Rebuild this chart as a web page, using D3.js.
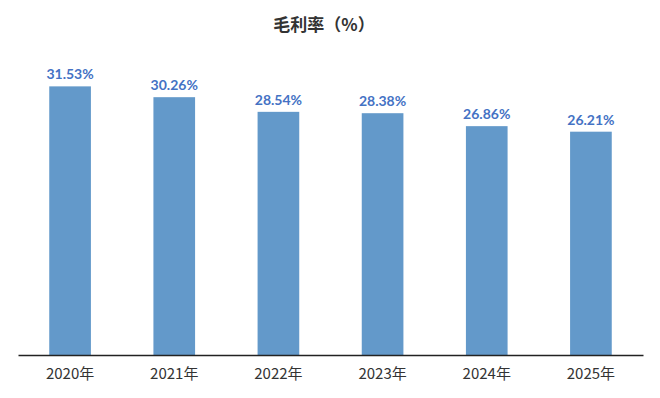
<!DOCTYPE html>
<html>
<head>
<meta charset="utf-8">
<script src="https://cdn.jsdelivr.net/npm/d3@7"></script>
<style>
  body { margin: 0; background: #fff; }
</style>
</head>
<body>
<svg id="chart"></svg>
<script>
const years = ["2020年", "2021年", "2022年", "2023年", "2024年", "2025年"];
const margins = [31.53, 30.26, 28.54, 28.38, 26.86, 26.21];

const width = 660, height = 398;
const left = 18, right = 643, base = 355;

const svg = d3.select("#chart")
    .attr("width", width)
    .attr("height", height);

// Skalen
const x = d3.scaleBand()
    .domain(years)
    .range([left, right])
    .paddingInner(0.6)
    .paddingOuter(0.3);

const y = d3.scaleLinear()
    .domain([0, 35])
    .range([base, base - 8.52 * 35]);

// Titel
svg.append("text")
    .attr("x", 324)
    .attr("y", 31)
    .attr("text-anchor", "middle")
    .attr("font-family", "'Noto Sans CJK SC', sans-serif")
    .attr("font-weight", "bold")
    .attr("font-size", 17)
    .attr("fill", "#333")
    .text("毛利率（%）");

// Balken
svg.selectAll("rect.bar")
    .data(margins)
    .join("rect")
    .attr("class", "bar")
    .attr("x", (d, i) => x(years[i]))
    .attr("y", d => y(d))
    .attr("width", x.bandwidth())
    .attr("height", d => base - y(d))
    .attr("fill", "#6399ca");

// Werte
svg.selectAll("text.val")
    .data(margins)
    .join("text")
    .attr("class", "val")
    .attr("x", (d, i) => x(years[i]) + x.bandwidth() / 2)
    .attr("y", d => y(d) - 7)
    .attr("text-anchor", "middle")
    .attr("font-family", "Lato, 'Open Sans', sans-serif")
    .attr("font-weight", "bold")
    .attr("font-size", 14)
    .attr("fill", "#4472c4")
    .text(d => d.toFixed(2) + "%");

// X Achse
const axis = svg.append("g")
    .attr("transform", `translate(0, ${base})`)
    .call(d3.axisBottom(x).tickSize(0).tickPadding(13));

axis.select(".domain")
    .attr("stroke", "#222")
    .attr("stroke-width", 1.5);

axis.selectAll("text")
    .attr("font-family", "'Noto Sans CJK SC', sans-serif")
    .attr("font-size", 15)
    .attr("fill", "#333");
</script>
</body>
</html>
